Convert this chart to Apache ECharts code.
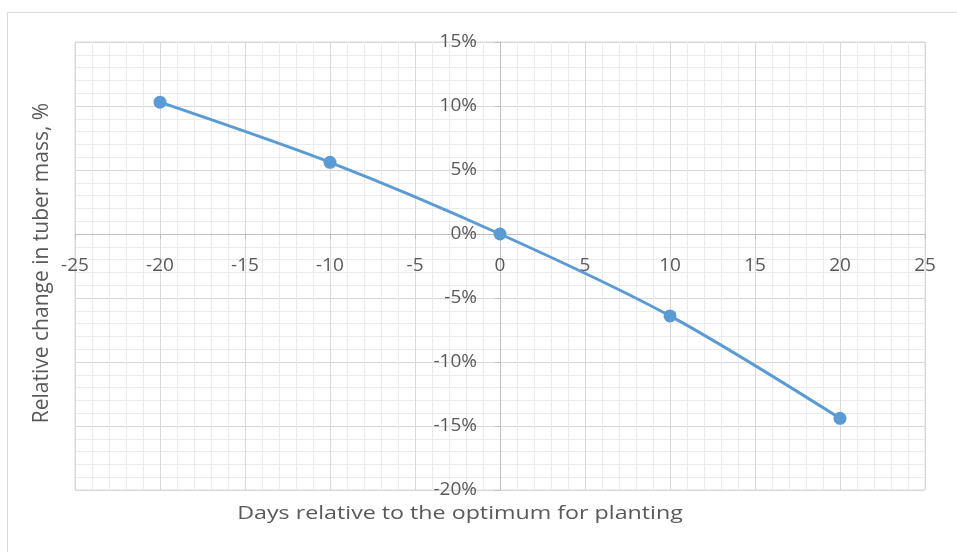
<!DOCTYPE html>
<html><head><meta charset="utf-8">
<script src="https://cdn.jsdelivr.net/npm/echarts@6/dist/echarts.min.js"></script>
<style>html,body{margin:0;padding:0;background:#fff}#c{width:957px;height:552px}</style>
</head><body><div id="c"></div>
<script>
const days = [-20, -10, 0, 10, 20];
const changePct = [10.3, 5.6, 0, -6.4, -14.4];
const xTitle = 'Days relative to the optimum for planting';
const yTitle = 'Relative change in tuber mass, %';

const chart = echarts.init(document.getElementById('c'));
const font = '"Open Sans", "Liberation Sans", sans-serif';
const textColor = '#595959';
const gridLeft = 75, gridTop = 42, gridBottom = 62;
chart.setOption({
  animation: false,
  grid: {left: gridLeft, right: 32, top: gridTop, bottom: gridBottom, containLabel: false,
    show: true, borderColor: '#d9d9d9', borderWidth: 1},
  xAxis: {
    type: 'value', min: -25, max: 25, interval: 5,
    axisLine: {onZero: false, lineStyle: {color: '#bfbfbf', width: 1}},
    axisTick: {show: true, length: 5, lineStyle: {color: '#bfbfbf'}},
    axisLabel: {color: textColor, fontFamily: font, fontSize: 19, margin: 22},
    splitLine: {show: true, lineStyle: {color: '#d9d9d9', width: 1}},
    minorTick: {show: false, splitNumber: 5},
    minorSplitLine: {show: true, lineStyle: {color: '#ebebeb', width: 1}}
  },
  yAxis: {
    type: 'value', min: -20, max: 15, interval: 5,
    axisLine: {onZero: false, lineStyle: {color: '#bfbfbf', width: 1}},
    axisTick: {show: true, length: 5, lineStyle: {color: '#bfbfbf'}},
    axisLabel: {color: textColor, fontFamily: font, fontSize: 19, margin: 23, formatter: '{value}%'},
    splitLine: {show: true, lineStyle: {color: '#d9d9d9', width: 1}},
    minorTick: {show: false, splitNumber: 5},
    minorSplitLine: {show: true, lineStyle: {color: '#ebebeb', width: 1}}
  },
  series: [{
    type: 'line', smooth: 0.3,
    data: days.map((d, i) => [d, changePct[i]]),
    symbol: 'circle', symbolSize: 13,
    lineStyle: {color: '#5B9BD5', width: 3},
    itemStyle: {color: '#5B9BD5'}
  }]
});
const zeroY = chart.convertToPixel({yAxisIndex: 0}, 0);
const zeroX = chart.convertToPixel({xAxisIndex: 0}, 0);
const bottomY = 552 - gridBottom;
chart.setOption({
  xAxis: {offset: -(bottomY - zeroY)},
  yAxis: {offset: -(zeroX - gridLeft)},
  graphic: [
    {type: 'rect', silent: true, shape: {x: 7.5, y: 12.5, width: 960, height: 560}, style: {fill: 'none', stroke: '#d9d9d9', lineWidth: 1}},
    {type: 'text', x: 460, y: 514, scaleX: 1.29, style: {text: xTitle, fill: textColor, font: '18px ' + font, align: 'center', verticalAlign: 'middle'}},
    {type: 'text', x: 42, y: 263, rotation: Math.PI / 2, style: {text: yTitle, fill: textColor, font: '21px ' + font, align: 'center', verticalAlign: 'middle'}}
  ]
});
</script></body></html>
